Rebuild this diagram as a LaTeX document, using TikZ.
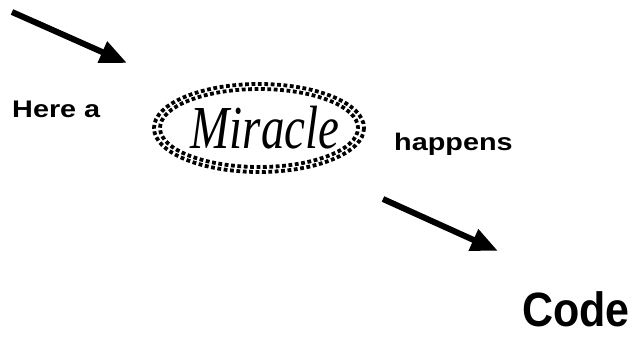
\documentclass[tikz,border=0pt]{standalone}
\usepackage{fontspec}
\setsansfont{Liberation Sans}
\newfontfamily\miraclefont{Liberation Serif}
\usepackage{tikz}
\usetikzlibrary{arrows.meta}
\definecolor{inkmain}{HTML}{000000}
\tikzset{
  boldtext/.style={font=\sffamily\bfseries\fontsize{24}{28}\selectfont,inner sep=0pt,anchor=base west,xscale=1.2},
  bigtext/.style={font=\sffamily\bfseries\fontsize{43}{50}\selectfont,inner sep=0pt,anchor=base west,yscale=1.12},
  fatarrow/.style={-{Triangle[length=27pt,width=22pt]},line width=6pt,inkmain},
  dotring/.style={inkmain,line width=3.8pt,dash pattern=on 3.8pt off 2.6pt}
}

\begin{document}
\begin{tikzpicture}[x=1pt,y=-1pt]
  \useasboundingbox (0,0) rectangle (636,337);
  % arrows in and out
  \coordinate (inA) at (12,12);
  \coordinate (inB) at (127,63);
  \coordinate (outA) at (383,199);
  \coordinate (outB) at (498,251);
  \draw[fatarrow] (inA) -- (inB);
  \draw[fatarrow] (outA) -- (outB);
  % the miracle
  \draw[dotring] (259,128) ellipse [x radius=105,y radius=44];
  \draw[dotring,dash phase=3pt] (259,128) ellipse [x radius=99,y radius=39];
  \node[inner sep=0pt,anchor=base,yscale=1.3] (miracle) at (265,148)
    {\miraclefont\itshape\fontsize{47}{52}\selectfont Miracle};
  % texts
  \node[boldtext] (herea) at (12,117) {Here a};
  \node[boldtext] (happens) at (394,150) {happens};
  \node[bigtext] (code) at (522,326) {Code};
\end{tikzpicture}
\end{document}
